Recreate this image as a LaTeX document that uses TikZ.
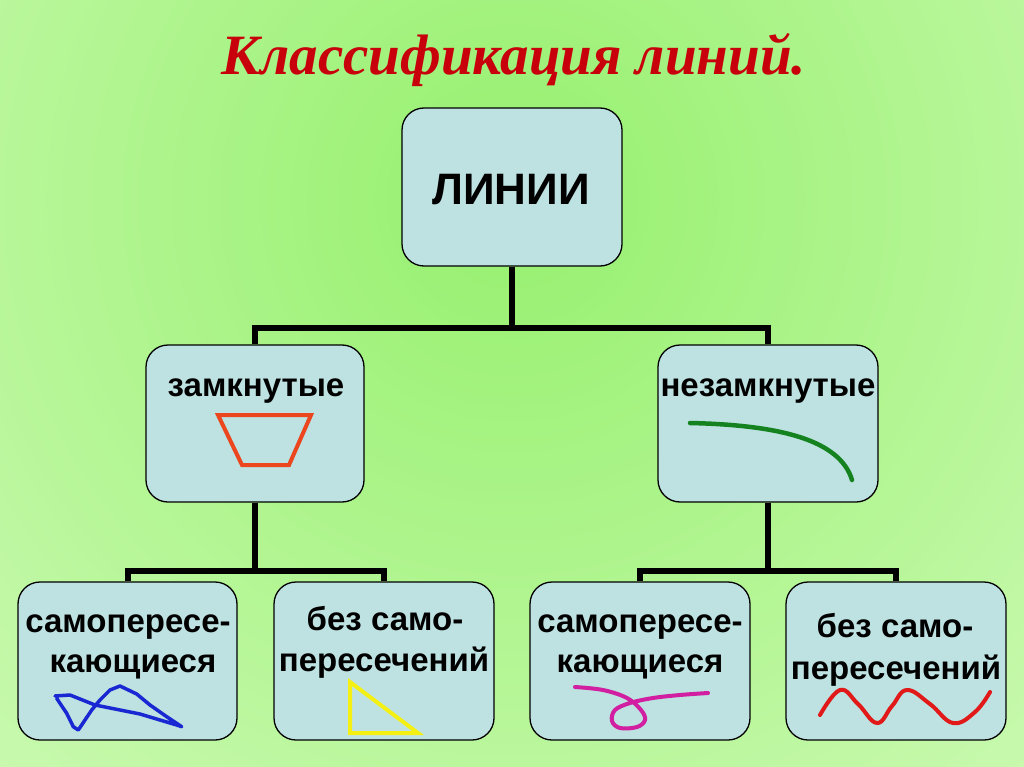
\documentclass[tikz,border=0pt]{standalone}
\usepackage{fontspec}
\setmainfont{Liberation Sans}
\newfontfamily\titlefont{Liberation Serif}
\definecolor{bginner}{RGB}{150,240,110}
\definecolor{bgouter}{RGB}{222,253,202}
\definecolor{boxfill}{RGB}{189,226,225}
\definecolor{titlered}{RGB}{200,0,12}
\definecolor{trapcol}{RGB}{235,70,30}
\definecolor{curvegreen}{RGB}{20,130,30}
\definecolor{fishblue}{RGB}{25,40,210}
\definecolor{triyellow}{RGB}{245,240,20}
\definecolor{loopmag}{RGB}{210,30,160}
\definecolor{wavered}{RGB}{225,25,25}
\begin{document}
\begin{tikzpicture}[x=1pt,y=-1pt,
  box/.style={draw=black, line width=1.3pt, fill=boxfill, rounded corners=22pt, inner sep=0pt},
  conn/.style={draw=black, line width=6pt, line join=miter},
  lbl/.style={font=\fontsize{33}{40}\selectfont\bfseries, inner sep=0pt, anchor=base},
  biglbl/.style={font=\fontsize{44}{50}\selectfont\bfseries, inner sep=0pt, anchor=base},
  ttl/.style={font=\titlefont\fontsize{57}{63}\selectfont\bfseries\itshape, text=titlered, inner sep=0pt, anchor=base},
  icon/.style={line width=4pt, line join=round, line cap=round}]
\useasboundingbox (0,0) rectangle (1024,767);
\fill[bgouter] (0,0) rectangle (1024,767);
\begin{scope}
  \clip (0,0) rectangle (1024,767);
  \shade[inner color=bginner, outer color=bgouter] (512,200) circle (1100);
\end{scope}

\node[ttl] (title) at (514,75) {Классификация линий.};

% boxes
\node[box, minimum width=220pt, minimum height=158pt] (lines) at (512,187) {};
\node[box, minimum width=218pt, minimum height=157pt] (closed) at (255,423.5) {};
\node[box, minimum width=220pt, minimum height=157pt] (open) at (768,423.5) {};
\node[box, minimum width=219pt, minimum height=158pt] (cs) at (127.5,661) {};
\node[box, minimum width=220pt, minimum height=158pt] (cn) at (384,661) {};
\node[box, minimum width=220pt, minimum height=158pt] (os) at (640,661) {};
\node[box, minimum width=220pt, minimum height=158pt] (on) at (896,661) {};

% connectors
\draw[conn] (lines.south) -- ++(0,61) coordinate (j1) -| (closed.north);
\draw[conn] (j1) -| (open.north);
\draw[conn] (closed.south) -- ++(0,68) coordinate (j2) -| (cs.north);
\draw[conn] (j2) -| (cn.north);
\draw[conn] (open.south) -- ++(0,68) coordinate (j3) -| (os.north);
\draw[conn] (j3) -| (on.north);

% labels
\node[biglbl] (tlines) at (511,205) {ЛИНИИ};
\node[lbl] (tclosed) at (256,396) {замкнутые};
\node[lbl] (topen) at (768,396) {незамкнутые};
\node[lbl] (tcs1) at (128,632) {самопересе-};
\node[lbl] (tcs2) at (133,672) {кающиеся};
\node[lbl] (tcn1) at (385,630) {без само-};
\node[lbl] (tcn2) at (384,671) {пересечений};
\node[lbl] (tos1) at (640,632) {самопересе-};
\node[lbl] (tos2) at (640,672) {кающиеся};
\node[lbl] (ton1) at (895,637) {без само-};
\node[lbl] (ton2) at (896,679) {пересечений};

% icons
\draw[icon, trapcol, line join=miter] (218,415) -- (311,415) -- (289,465) -- (242,465) -- cycle;
\draw[icon, curvegreen, line width=4.5pt] (690,423) .. controls (780,425) and (840,440) .. (852,480);
\draw[icon, fishblue, line width=3.5pt] (55,696) -- (70,695) -- (95,705) -- (140,714) -- (176.7,725) -- (181.7,726.7) -- (166.7,716.7) -- (150,705) -- (136.7,694) -- (120,686) -- (110,690) -- (100,700) -- (91.7,710) -- (85,720) -- (78.3,730) -- (73.3,726.7) -- (66.7,713.3) -- (60,703.3) -- (56.7,698.3);
\draw[icon, triyellow, line join=miter] (350,682) -- (350,733) -- (418,733) -- cycle;
\draw[icon, loopmag] plot[smooth, tension=0.6] coordinates {(575,687) (603,690) (627,698) (641,710) (645,720) (637,727) (620,728) (612,721) (615,710) (630,703) (653,698) (680,695) (708,693)};
\draw[icon, wavered] plot[smooth, tension=0.7] coordinates {(820,715) (840,690) (858,704) (877,723) (892,706) (907,690) (930,704) (953,723) (975,712) (990,692)};
\end{tikzpicture}
\end{document}
